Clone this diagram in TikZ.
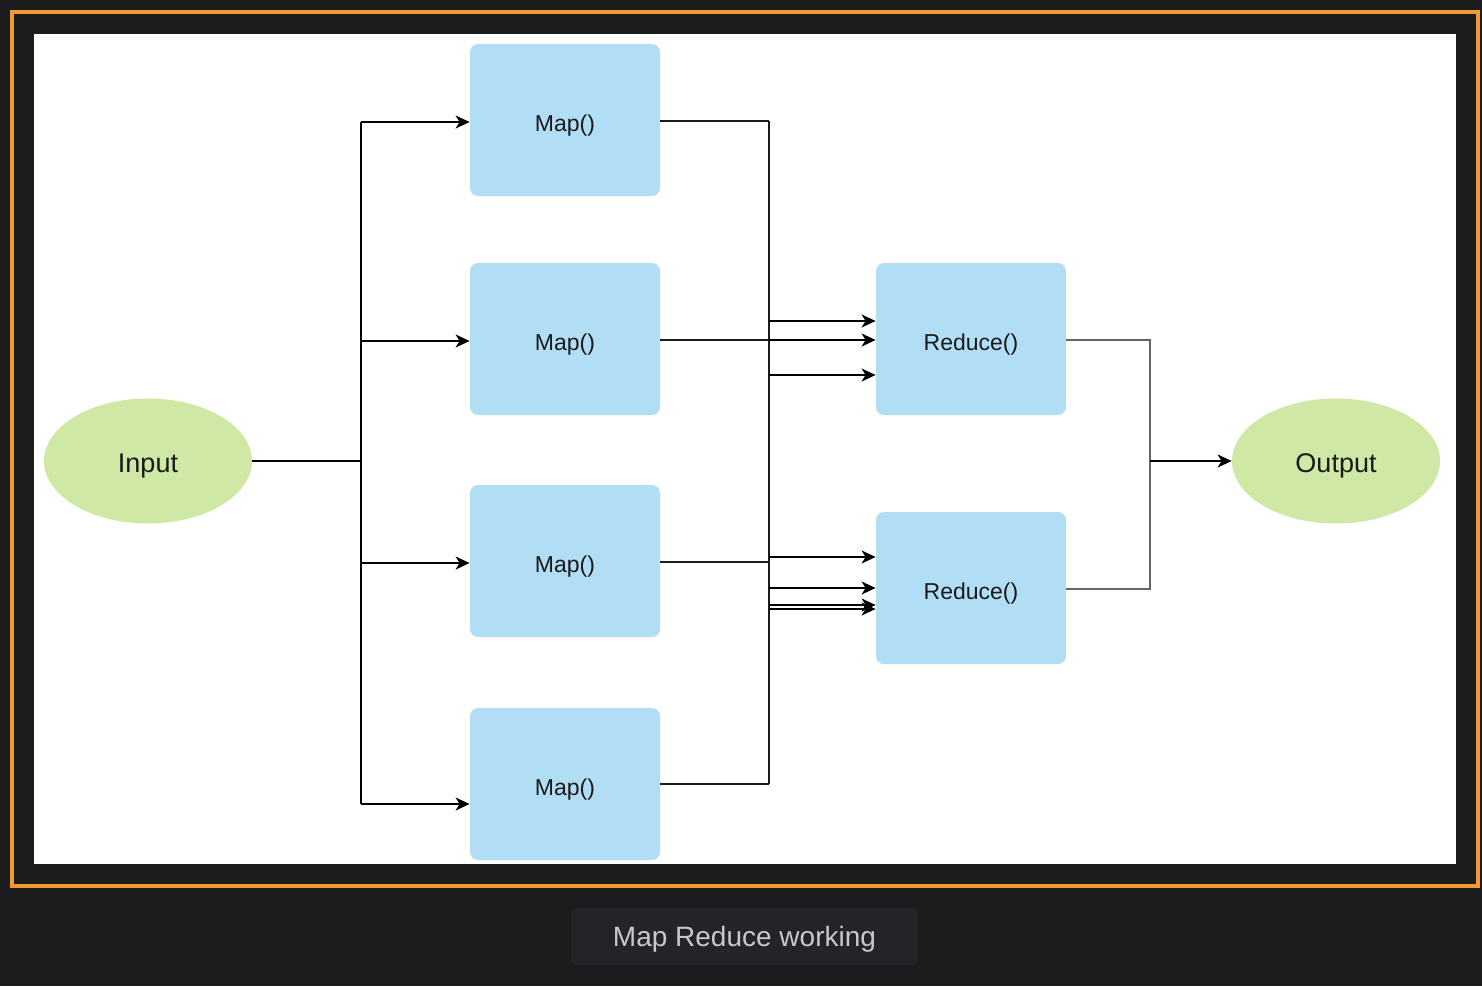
\documentclass[tikz,border=0pt]{standalone}
\usepackage{fontspec}
\setmainfont{Liberation Sans}
\usetikzlibrary{arrows.meta,shapes.geometric}

\definecolor{pagedark}{HTML}{1C1C1E}
\definecolor{frameorange}{HTML}{F29B34}
\definecolor{mapblue}{HTML}{B2DEF5}
\definecolor{leafgreen}{HTML}{D0E8A6}
\definecolor{textdark}{HTML}{1A1A1A}
\definecolor{captionbg}{HTML}{232427}
\definecolor{captiontext}{HTML}{C8C8CC}

\begin{document}
\begin{tikzpicture}[x=0.5pt, y=-0.5pt,
    mapbox/.style={rectangle, rounded corners=4pt, fill=mapblue,
        minimum width=95pt, minimum height=76pt, inner sep=0pt,
        font=\fontsize{11.5}{13}\selectfont, text=textdark,
        text height=11pt, text depth=0pt},
    endpoint/.style={ellipse, fill=leafgreen, minimum width=104pt,
        minimum height=62.5pt, inner sep=0pt,
        font=\fontsize{13.5}{16}\selectfont, text=textdark,
        text height=11.2pt, text depth=0pt},
    arr/.style={-{Stealth[length=7pt, width=6.5pt, inset=2pt]},
        line width=0.8pt, black},
    feed/.style={line width=1.1pt, textdark},
    collect/.style={line width=1.1pt, black!60}]

    % drawing parameters
    \def\splitx{361} % input bus
    \def\mergex{769} % map output bus
    \def\joinx{1150} % reduce output bus

    % page, frame and white canvas
    \fill[pagedark] (0,0) rectangle (1482,986);
    \draw[frameorange, line width=2pt] (12,12) rectangle (1478,886);
    \fill[white] (34,34) rectangle (1456,864);

    % input and output
    \node[endpoint] (input) at (148,461) {Input};
    \node[endpoint] (output) at (1336,461) {Output};

    % map boxes
    \node[mapbox] (map1) at (565,120) {Map()};
    \node[mapbox] (map2) at (565,339) {Map()};
    \node[mapbox] (map3) at (565,561) {Map()};
    \node[mapbox] (map4) at (565,784) {Map()};

    % reduce boxes
    \node[mapbox] (red1) at (971,339) {Reduce()};
    \node[mapbox] (red2) at (971,588) {Reduce()};

    % split the input to the maps
    \coordinate (splitin) at (\splitx,461);
    \draw[line width=1.3pt, black] (input.east) -- (splitin);
    \draw[line width=0.8pt] (\splitx,122) -- (\splitx,804);
    \draw[arr] (\splitx,122) -- (map1.west |- 0,122);
    \draw[arr] (\splitx,341) -- (map2.west |- 0,341);
    \draw[arr] (\splitx,563) -- (map3.west |- 0,563);
    \draw[arr] (\splitx,804) -- (map4.west |- 0,804);

    % map outputs into one bus
    \foreach \m/\y in {map1/121, map2/340, map3/562, map4/784} {
        \draw[feed] (\m.east |- 0,\y) -- (\mergex,\y);
    }
    \draw[feed] (\mergex,121) -- (\mergex,784);

    % bus into the reducers
    \foreach \y in {321, 340, 375} {
        \draw[arr] (\mergex,\y) -- (red1.west |- 0,\y);
    }
    \foreach \y in {557, 588, 605, 609} {
        \draw[arr] (\mergex,\y) -- (red2.west |- 0,\y);
    }

    % reducers to output
    \draw[collect] (red1.east |- 0,340) -- (\joinx,340) -- (\joinx,589)
        -- (red2.east |- 0,589);
    \draw[arr] (\joinx,461) -- (output.west);

    % caption
    \node[rectangle, rounded corners=3pt, fill=captionbg,
        minimum width=173.5pt, minimum height=28.5pt,
        font=\fontsize{14}{16}\selectfont, text=captiontext,
        text height=10pt, text depth=0pt]
        (caption) at (744.5,936.5) {Map Reduce working};

\end{tikzpicture}
\end{document}
